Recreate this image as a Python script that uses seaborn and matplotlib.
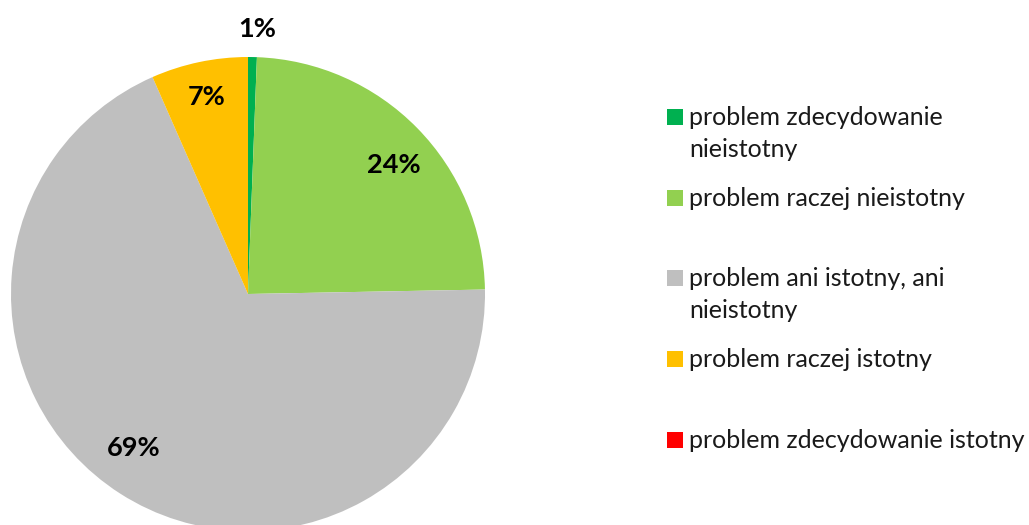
import numpy as np
import seaborn as sns
import matplotlib.pyplot as plt
from matplotlib.patches import Rectangle

# share of answers per category (clockwise from the top)
categories = ['problem zdecydowanie\nnieistotny',
              'problem raczej nieistotny',
              'problem ani istotny, ani\nnieistotny',
              'problem raczej istotny',
              'problem zdecydowanie istotny']
values = [0.6, 24.1, 68.7, 6.6, 0.0]
pct_labels = ['1%', '24%', '69%', '7%', '']
colors = ['#00B050', '#92D050', '#BFBFBF', '#FFC000', '#FF0000']

sns.set_theme(style='white')
plt.rcParams['font.family'] = ['Lato', 'DejaVu Sans']

W, H = 1029, 525
fig = plt.figure(figsize=(W / 100, H / 100), dpi=100)

# pie centre (248, 294) px, radius 237 px
cx, cy, r = 248, 294, 237
ax = fig.add_axes([(cx - r) / W, (H - cy - r) / H, 2 * r / W, 2 * r / H])
wedges, _ = ax.pie(values, colors=colors, startangle=90, counterclock=False,
                   radius=1, wedgeprops=dict(linewidth=0))
ax.set_xlim(-1, 1)
ax.set_ylim(-1, 1)
ax.set_aspect('equal')
ax.axis('off')

# percentage labels: radial distance and small angle shift per slice
label_dist = [1.12, 0.82, 0.81, 0.85, 0.8]
label_shift = [-1, -3, -4, 0, 0]
for w, txt, d, s in zip(wedges, pct_labels, label_dist, label_shift):
    if not txt:
        continue
    ang = np.deg2rad((w.theta1 + w.theta2) / 2 + s)
    ax.text(d * np.cos(ang), d * np.sin(ang), txt, ha='center', va='center',
            fontsize=19.5, fontweight='bold', color='black', clip_on=False)

# legend on the right (square centre y in px)
legend_y = [117, 198, 278, 359, 440]
for lab, col, yc in zip(categories, colors, legend_y):
    fig.add_artist(Rectangle((667 / W, (H - yc - 8) / H), 16 / W, 16 / H,
                             transform=fig.transFigure, facecolor=col,
                             edgecolor='none'))
    for i, line in enumerate(lab.split('\n')):
        fig.text(689 / W, (H - yc - 8 - 32 * i) / H, line, ha='left',
                 va='baseline', fontsize=18, color='#1a1a1a')

fig.savefig('out.png', dpi=100)
